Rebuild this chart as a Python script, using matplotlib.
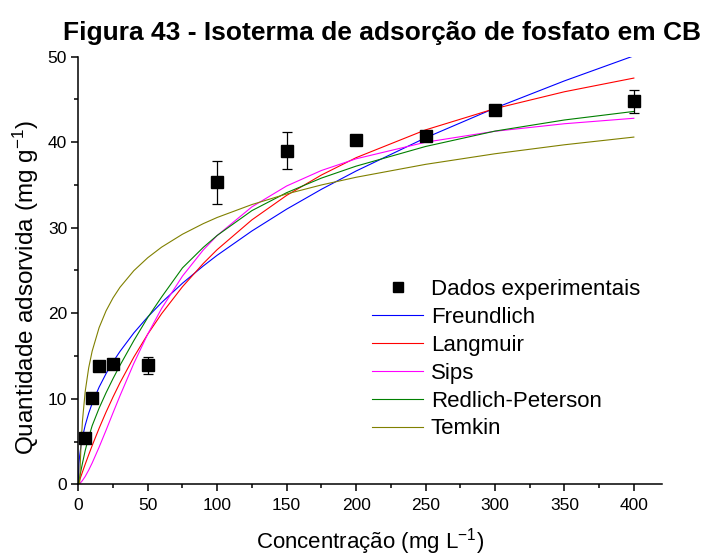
import numpy as np
import matplotlib
matplotlib.use('Agg')
import matplotlib.pyplot as plt
from matplotlib.ticker import MultipleLocator
from matplotlib.lines import Line2D

conc = [5, 10, 15, 25, 50, 100, 150, 200, 250, 300, 400]
q_exp = [5.4, 10.1, 13.8, 14.1, 13.9, 35.3, 39.0, 40.3, 40.7, 43.8, 44.8]
q_err = [0.0, 0.0, 0.0, 0.0, 1.0, 2.5, 2.15, 0.5, 0.3, 0.2, 1.35]

#%% Fitted curves
x_fit = [0, 0.5, 1, 2, 3, 5, 7.5, 10, 15, 20, 25, 30, 40, 50, 60, 75, 90,
         100, 125, 150, 175, 200, 250, 300, 350, 400]
freundlich = [0, 2.44, 3.34, 4.57, 5.49, 6.91, 8.31, 9.46, 11.36, 12.94, 14.31,
              15.53, 17.70, 19.57, 21.25, 23.51, 25.53, 26.78, 29.62, 32.17,
              34.49, 36.63, 40.51, 43.99, 47.17, 50.10]
langmuir = [0, 0.24, 0.48, 0.96, 1.43, 2.35, 3.45, 4.52, 6.55, 8.44, 10.20,
            11.86, 14.87, 17.55, 19.95, 23.10, 25.82, 27.44, 30.92, 33.78,
            36.16, 38.19, 41.44, 43.93, 45.90, 47.50]
sips = [0, 0.03, 0.09, 0.24, 0.44, 0.92, 1.66, 2.49, 4.34, 6.32, 8.35, 10.34,
        14.14, 17.56, 20.56, 24.34, 27.40, 29.09, 32.44, 34.88, 36.69, 38.06,
        40.00, 41.28, 42.16, 42.80]
redlich = [0, 0.43, 0.85, 1.65, 2.45, 3.95, 5.5, 6.85, 8.9, 10.7, 12.35, 13.9,
           16.8, 19.5, 21.9, 25.3, 27.7, 29.1, 32.0, 34.1, 35.8, 37.2, 39.5,
           41.3, 42.6, 43.6]
x_temkin = [1, 1.5, 2, 3, 5, 7.5, 10, 15, 20, 25, 30, 40, 50, 60, 75, 90, 100,
            125, 150, 175, 200, 250, 300, 350, 400]
temkin = [0, 2.70, 4.65, 7.40, 10.87, 13.62, 15.57, 18.32, 20.28, 21.79,
          23.03, 24.98, 26.49, 27.73, 29.24, 30.48, 31.20, 32.71, 33.95, 35.00,
          35.90, 37.41, 38.65, 39.70, 40.60]

#%% Settings
plt.rcParams['font.family'] = ['Liberation Sans', 'DejaVu Sans']
plt.rcParams['mathtext.fontset'] = 'custom'
plt.rcParams['mathtext.rm'] = 'Liberation Sans'
plt.rcParams['mathtext.it'] = 'Liberation Sans'
lw = 0.8
fig = plt.figure(figsize=(7.09, 5.58), dpi=100)
ax = fig.add_axes([0.1104, 0.1321, 0.8228, 0.7663])

ax.plot(x_fit, freundlich, color='#0000FF', lw=lw, label='Freundlich')
ax.plot(x_fit, langmuir, color='#FF0000', lw=lw, label='Langmuir')
ax.plot(x_fit, sips, color='#FF00FF', lw=lw, label='Sips')
ax.plot(x_fit, redlich, color='#008000', lw=lw, label='Redlich-Peterson')
ax.plot(x_temkin, temkin, color='#808000', lw=lw, label='Temkin')
ax.errorbar(conc, q_exp, yerr=q_err, fmt='s', color='black', ms=8,
            ecolor='black', elinewidth=0.9, capsize=3.5, capthick=0.9,
            zorder=5, clip_on=False)

ax.set_xlim(0, 420)
ax.set_ylim(0, 50)
ax.xaxis.set_ticks([0, 50, 100, 150, 200, 250, 300, 350, 400])
ax.xaxis.set_minor_locator(MultipleLocator(25))
ax.yaxis.set_ticks([0, 10, 20, 30, 40, 50])
ax.yaxis.set_minor_locator(MultipleLocator(5))
for side in ['top', 'right']:
    ax.spines[side].set_visible(False)
for side in ['left', 'bottom']:
    ax.spines[side].set_linewidth(1.1)
ax.tick_params(which='major', direction='out', length=5, width=1.1,
               labelsize=12.5, pad=3)
ax.tick_params(axis='x', which='major', pad=5)
ax.tick_params(which='minor', direction='out', length=3, width=1.1)

ax.set_xlabel(r'Concentração (mg L$^{\mathrm{-1}}$)', fontsize=16, labelpad=9)
ax.set_ylabel(r'Quantidade adsorvida (mg g$^{\mathrm{-1}}$)', fontsize=17.5)
ax.yaxis.set_label_coords(-0.064, 0.461)

fig.text(0.539, 0.941, 'Figura 43 - Isoterma de adsorção de fosfato em CB',
         ha='center', va='center', fontsize=19, fontweight='bold')

# legend: marker first, then the fits
handles, labels = ax.get_legend_handles_labels()
dados = Line2D([], [], ls='none', marker='s', color='black', ms=6.5)
ax.legend([dados] + handles, ['Dados experimentais'] + labels,
          loc='upper left', bbox_to_anchor=(372 / 709, 1 - 279 / 558),
          bbox_transform=fig.transFigure, frameon=False, fontsize=16,
          handlelength=2.3, handletextpad=0.35, labelspacing=0.31,
          borderpad=0, borderaxespad=0)

fig.savefig('out.png', dpi=100)
